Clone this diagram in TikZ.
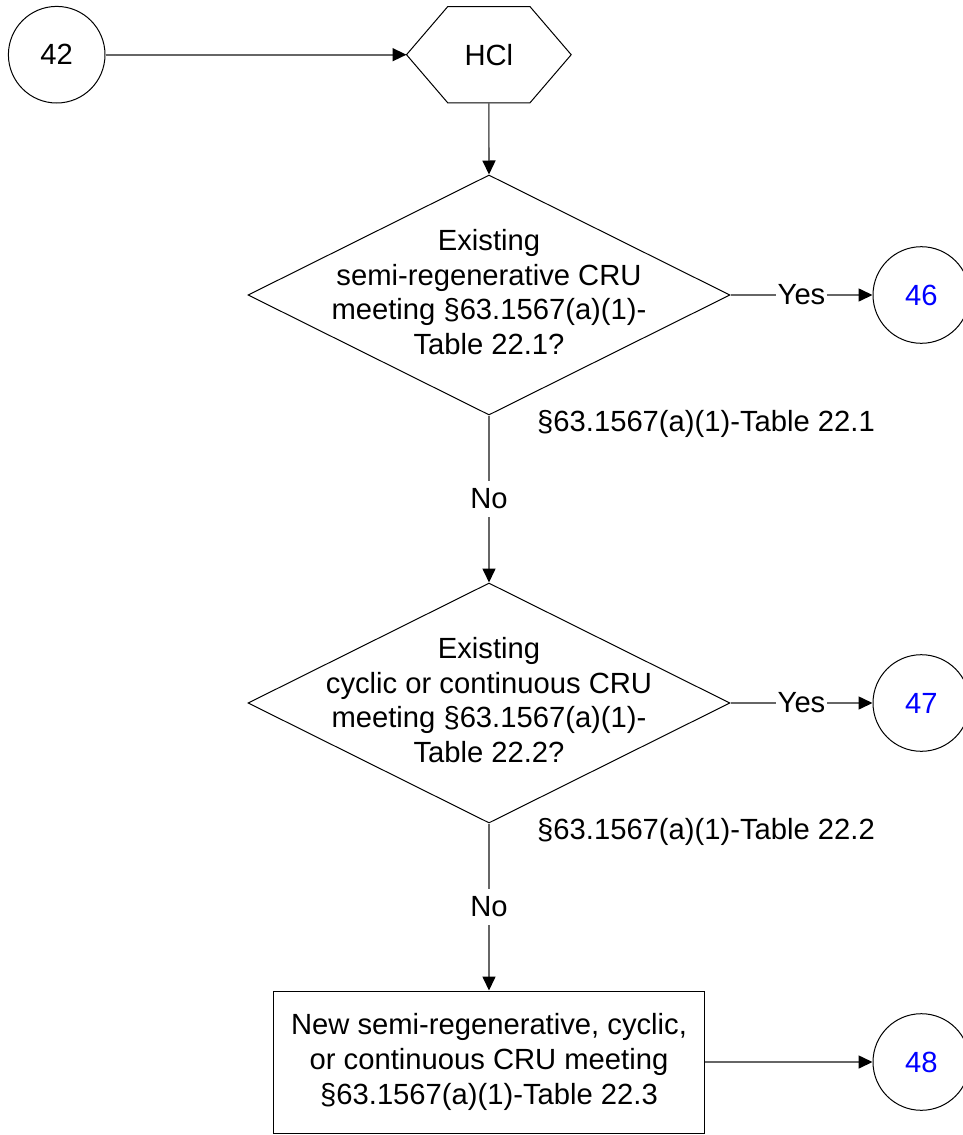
\documentclass[tikz,border=0pt]{standalone}
\usepackage{fontspec}
\setmainfont{Liberation Sans}
\usetikzlibrary{shapes.geometric,arrows.meta}
\begin{document}
\begin{tikzpicture}[x=1pt,y=-1pt,
  every node/.style={font=\fontsize{29.2pt}{34.65pt}\selectfont, inner sep=0pt},
  shapeline/.style={draw=black, line width=1pt},
  conn/.style={draw=black!60, line width=1.6pt, -{Triangle[length=14pt,width=13pt,color=black]}},
  termcircle/.style={shapeline, circle, minimum size=96.6pt},
  decision/.style={shapeline, diamond, minimum width=482pt, minimum height=240pt},
  lbl/.style={fill=white, inner xsep=1.5pt, inner ysep=8pt},
  hexlabel/.style={minimum width=164.3pt, minimum height=96pt},
  actionbox/.style={shapeline, minimum width=431pt, minimum height=142pt, align=center}
]
\useasboundingbox (0,0) rectangle (962,1135);

% start connector
\node[termcircle] (c42) at (56.7,54.7) {42};
\node[hexlabel] (hcl) at (488.85,54.7) {HCl};
\draw[shapeline] (hcl.west) -- ([xshift=41.3pt]hcl.north west) -- ([xshift=-41.3pt]hcl.north east)
  -- (hcl.east) -- ([xshift=-41.3pt]hcl.south east) -- ([xshift=41.3pt]hcl.south west) -- cycle;

% first decision
\node[decision] (d1) at (489,295) {};
\node[align=center] (t1) at ([yshift=3pt]d1.center) {Existing\\semi-regenerative CRU\\meeting §63.1567(a)(1)-\\Table 22.1?};
\node[termcircle, text=blue] (c46) at (921.3,295) {46};
\node[anchor=base west] (l1) at (537,431.7) {§63.1567(a)(1)-Table 22.1};

% second decision
\node[decision] (d2) at (489,703) {};
\node[align=center] (t2) at ([yshift=3pt]d2.center) {Existing\\cyclic or continuous CRU\\meeting §63.1567(a)(1)-\\Table 22.2?};
\node[termcircle, text=blue] (c47) at (921.3,703) {47};
\node[anchor=base west] (l2) at (537,839.7) {§63.1567(a)(1)-Table 22.2};

% final box
\node[actionbox] (box) at (489,1062) {New semi-regenerative, cyclic,\\or continuous CRU meeting\\§63.1567(a)(1)-Table 22.3};
\node[termcircle, text=blue] (c48) at (921.3,1062) {48};

% connectors
\draw[conn] (c42) -- (hcl.west);
\draw[conn] (hcl.south) -- (d1.north);
\draw[conn] (d1.east) -- node[lbl] (y1) {Yes} (c46);
\draw[conn] (d1.south) -- node[lbl] (n1) {No} (d2.north);
\draw[conn] (d2.east) -- node[lbl] (y2) {Yes} (c47);
\draw[conn] (d2.south) -- node[lbl] (n2) {No} (box.north);
\draw[conn] (box.east) -- (c48);
\end{tikzpicture}
\end{document}
